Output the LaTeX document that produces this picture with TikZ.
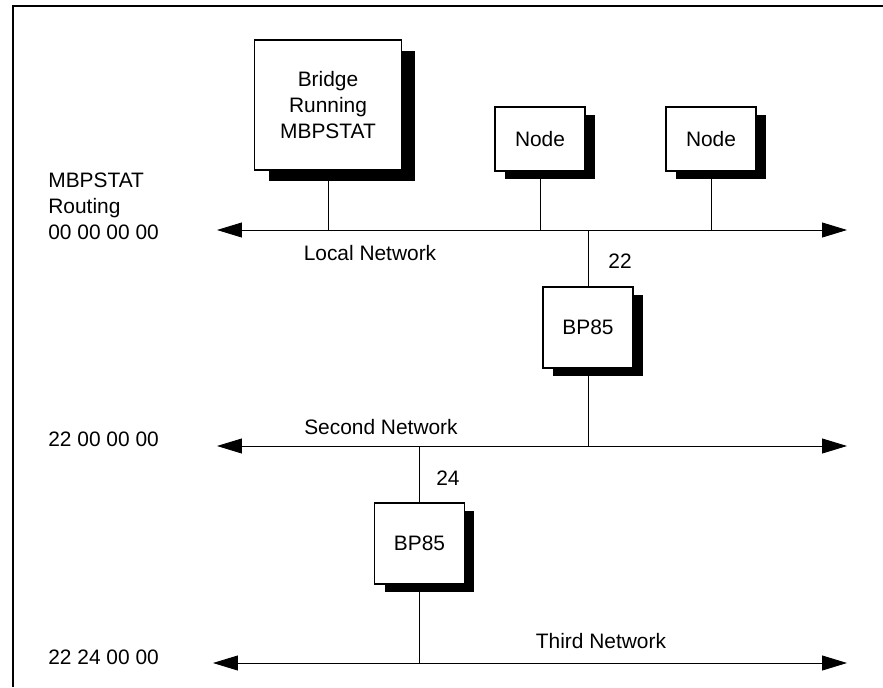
\documentclass[tikz,border=0pt]{standalone}
\usepackage{fontspec}
\setmainfont{Liberation Sans}
\usetikzlibrary{arrows.meta,shadows,positioning}
\newcommand{\boxwidth}{1.8cm}
\newcommand{\boxheight}{1.62cm}
\tikzset{
  >={Triangle[length=0.5cm,width=0.3cm]},
  font=\fontsize{11.9}{14.7}\selectfont,
  rect/.style={draw,fill=white,line width=0.9pt,shape=rectangle,minimum width=\boxwidth,minimum height=\boxheight,inner sep=1mm,align=center,
    drop shadow={shadow xshift=#1,shadow yshift=-0.8*#1,opacity=1,fill=black}},
  rect/.default=0.2cm,
  net/.style={draw,<->,line width=0.5pt},
  tap/.style={draw,line width=0.5pt},
  addr/.style={align=left,anchor=west,inner sep=0},
}

\begin{document}
\begin{tikzpicture}[x=0.02cm,y=-0.02cm]
    \useasboundingbox (0,0) rectangle (883,687);
    \draw [line width=0.8pt] (883,6) -| (13,687);

    % networks
    \coordinate (lanW) at (217,230); \coordinate (lanE) at (847,230);
    \coordinate (secW) at (217,446); \coordinate (secE) at (847,446);
    \coordinate (thdW) at (213,663); \coordinate (thdE) at (847,663);
    \path [net] (lanW) -- (lanE);
    \path [net] (secW) -- (secE);
    \path [net] (thdW) -- (thdE);

    % boxes
    \node (bridge) [rect=0.28cm,minimum width=2.94cm,minimum height=2.6cm] at (328,105) {Bridge\\Running\\MBPSTAT};
    \node (node1) [rect,minimum height=1.28cm] at (540,139) {Node};
    \node (node2) [rect,minimum height=1.28cm] at (711,139) {Node};
    \node (bpa) [rect] at (588,327.5) {BP85};
    \node (bpb) [rect] at (419.5,543.5) {BP85};

    \path [tap] (bridge.south) -- (bridge.south |- lanW);
    \path [tap] (node1.south) -- (node1.south |- lanW);
    \path [tap] (node2.south) -- (node2.south |- lanW);
    \path [tap] (bpa.north) -- (bpa.north |- lanW);
    \path [tap] (bpa.south) -- (bpa.south |- secW);
    \path [tap] (bpb.north) -- (bpb.north |- secW);
    \path [tap] (bpb.south) -- (bpb.south |- thdW);

    % labels
    \node (lanaddr) [addr] at (48,206) {MBPSTAT\\Routing\\00 00 00 00};
    \node (secaddr) [addr] at (48,439) {22 00 00 00};
    \node (thdaddr) [addr] at (48,657) {22 24 00 00};
    \node (lanname) at (370,253) {Local Network};
    \node (secname) at (381,427) {Second Network};
    \node (thdname) at (601,641) {Third Network};
    \node (porta) at (620,261) {22};
    \node (portb) at (448,478) {24};
\end{tikzpicture}
\end{document}
